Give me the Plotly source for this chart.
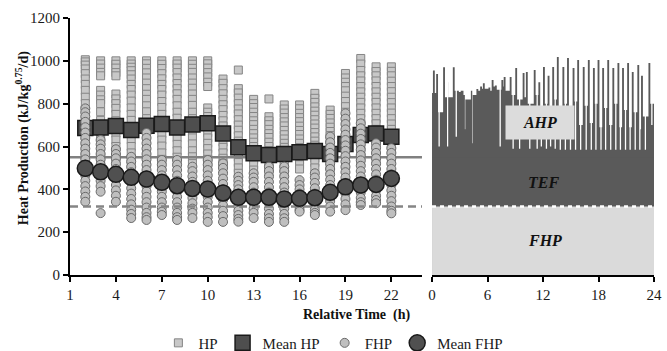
import plotly.graph_objects as go

# ---------------- data ----------------
hours = list(range(2, 23))

hp_points = [
    [1005, 995, 980, 962, 940, 915, 890, 862, 830, 800, 772, 740, 712, 680, 650, 622, 590, 560, 530, 500],
    [1000, 985, 966, 946, 930, 862, 840, 818, 800, 762, 722, 690, 660, 632, 600, 572, 540, 512],
    [1000, 984, 966, 945, 930, 845, 822, 800, 778, 750, 720, 690, 662, 630, 600, 575, 550, 520],
    [1000, 985, 970, 954, 935, 915, 890, 866, 840, 812, 780, 750, 722, 690, 660, 632, 600, 570, 540, 510],
    [1000, 986, 965, 944, 920, 896, 870, 844, 820, 790, 762, 730, 700, 672, 640, 610, 582, 550, 520],
    [1000, 984, 964, 940, 916, 890, 866, 840, 810, 782, 750, 720, 692, 660, 630, 602, 570, 540, 510],
    [1000, 985, 966, 945, 920, 894, 870, 846, 820, 790, 760, 732, 700, 670, 642, 610, 580, 550, 520],
    [1000, 984, 965, 946, 920, 896, 872, 845, 820, 792, 760, 730, 702, 670, 640, 612, 580, 552, 520],
    [1000, 986, 966, 945, 925, 900, 880, 780, 760, 740, 715, 690, 665, 640, 615, 590, 565, 540, 510],
    [915, 895, 870, 846, 820, 795, 772, 745, 720, 696, 670, 645, 620, 596, 570, 545, 520, 495],
    [957, 870, 850, 826, 800, 775, 752, 725, 700, 676, 650, 625, 600, 576, 550, 525, 500, 475],
    [820, 800, 782, 760, 740, 720, 702, 680, 660, 640, 620, 600, 582, 560, 540, 515, 490],
    [822, 739, 720, 702, 680, 660, 642, 620, 600, 580, 560, 540, 520, 500, 480],
    [794, 775, 756, 735, 715, 696, 675, 655, 635, 615, 596, 575, 555, 535, 515, 495, 475],
    [794, 776, 755, 735, 716, 695, 675, 656, 635, 615, 595, 576, 555, 535, 515, 495],
    [848, 825, 806, 785, 765, 746, 725, 705, 686, 665, 645, 625, 606, 585, 565, 545, 525, 500],
    [770, 750, 731, 710, 690, 670, 651, 630, 610, 590, 571, 550, 530, 510, 490],
    [941, 920, 900, 880, 860, 835, 810, 786, 760, 735, 710, 686, 660, 635, 610, 586, 560, 535, 510],
    [1011, 985, 955, 930, 906, 880, 855, 830, 806, 780, 755, 730, 706, 680, 655, 630, 606, 580, 555, 530],
    [972, 950, 930, 906, 880, 855, 830, 806, 780, 755, 730, 706, 680, 655, 630, 606, 580, 555, 530],
    [972, 951, 930, 905, 880, 856, 830, 805, 780, 756, 730, 705, 680, 656, 630, 605, 580, 556, 530],
]

fhp_points = [
    [778, 760, 740, 715, 690, 665, 640, 615, 590, 565, 540, 515, 490, 465, 440, 415, 390, 365, 342],
    [630, 610, 590, 565, 540, 515, 490, 465, 440, 415, 389, 289],
    [587, 565, 545, 520, 495, 470, 445, 420, 395, 370, 342],
    [552, 530, 505, 480, 455, 430, 405, 380, 355, 330, 305, 285, 266],
    [663, 640, 615, 590, 565, 540, 515, 490, 465, 440, 415, 390, 365, 340, 315, 290, 270, 257],
    [537, 515, 490, 465, 440, 415, 390, 365, 340, 315, 295, 280],
    [537, 515, 490, 465, 440, 415, 390, 365, 340, 315, 290, 270, 257],
    [506, 485, 460, 435, 410, 385, 360, 335, 310, 290, 266],
    [537, 515, 490, 465, 440, 415, 390, 365, 340, 315, 290, 270, 248],
    [521, 500, 475, 450, 425, 400, 375, 350, 325, 300, 275, 248],
    [459, 440, 420, 400, 380, 360, 340, 320, 300, 280, 262, 249],
    [475, 455, 435, 410, 385, 360, 335, 310, 290, 266],
    [506, 485, 460, 435, 410, 385, 360, 335, 310, 285, 265, 248],
    [506, 485, 460, 435, 410, 385, 360, 335, 310, 285, 265, 248],
    [443, 420, 400, 380, 360, 340, 320, 305, 296],
    [475, 455, 430, 405, 380, 355, 330, 305, 290, 280],
    [646, 620, 595, 570, 545, 520, 495, 470, 445, 420, 395, 370, 345, 320, 296],
    [755, 730, 705, 680, 655, 630, 605, 580, 555, 530, 505, 480, 455, 430, 405, 380, 355, 330, 303],
    [708, 685, 660, 635, 610, 585, 560, 535, 510, 485, 460, 435, 410, 385, 360, 340, 327],
    [615, 595, 570, 545, 520, 495, 470, 445, 420, 395, 370, 350, 335],
    [592, 570, 545, 520, 495, 470, 445, 420, 395, 370, 345, 320, 300, 288],
]

mean_hp = [686, 689, 696, 677, 697, 705, 689, 703, 708, 661, 596, 568, 560, 565, 573, 579, 565, 612, 654, 661, 646]
mean_fhp = [498, 482, 470, 456, 448, 433, 417, 404, 401, 383, 363, 363, 363, 355, 358, 361, 386, 412, 420, 423, 451]

hp_level = 550     # overall mean HP (solid line / TEF top)
fhp_level = 320    # overall mean FHP (dashed line / FHP top)

# right panel: 24-h AHP profile (spikes, body level after each spike, white slits)
ahp_spike_time = [0.1, 0.45, 1.2, 1.75, 2.25, 2.9, 3.4, 4.2, 4.8, 5.2, 5.5, 6.1, 6.45, 6.8, 7.5, 7.75,
                  8.4, 9.0, 9.8, 10.15, 11.0, 11.5, 12.0, 12.5, 13.0, 13.5, 14.1, 14.6, 15.2, 15.7,
                  16.3, 16.85, 17.4, 17.9, 18.4, 18.95, 19.5, 20.05, 20.55, 21.1, 21.6, 22.2,
                  22.6, 23.4]
ahp_spike_value = [955, 938, 970, 900, 970, 855, 840, 860, 868, 880, 895, 875, 910, 885, 910, 925,
                   924, 966, 943, 948, 957, 900, 971, 930, 971, 1018, 971, 1013, 966, 1004,
                   971, 1004, 966, 1004, 966, 1004, 966, 990, 966, 990, 948, 980,
                   930, 990]
ahp_body_value = [850, 760, 830, 830, 860, 860, 820, 840, 860, 870, 870, 860, 880, 865, 880, 860,
                  840, 820, 830, 800, 840, 760, 800, 720, 820, 700, 800, 720, 810, 700,
                  790, 710, 800, 690, 780, 700, 800, 690, 770, 690, 760, 680,
                  740, 800]
ahp_slit_time = [0.7, 1.62, 2.55, 3.55, 4.35, 7.3, 8.7, 9.4, 10.5, 11.3, 11.75, 12.3, 12.75, 13.25,
                 13.8, 14.35, 14.9, 15.45, 16.0, 16.6, 17.15, 17.65, 18.2, 18.7, 19.25, 19.8,
                 20.3, 20.85, 21.35, 21.9, 22.4, 23.0, 23.7]
ahp_slit_value = [600, 600, 645, 680, 615, 600, 590, 590, 590, 590, 600, 590, 600, 590,
                  585, 585, 585, 585, 585, 585, 585, 585, 585, 585, 585, 585,
                  585, 585, 585, 585, 585, 585, 700]
ahp_start_value = 850
ahp_end_value = 756

# ---------------- styling ----------------
FONT = "Liberation Serif, Times New Roman, Times, serif"
DARK = "#5a5a5a"
LIGHT = "#dadada"
spike_w = 0.2
slit_w = 0.14

# build step outline of the AHP profile
events = [(0.0, ahp_start_value, None)]
for t, v, b in zip(ahp_spike_time, ahp_spike_value, ahp_body_value):
    events.append((t, v, "spike"))
    events.append((t + spike_w, b, "body"))
for t, v in zip(ahp_slit_time, ahp_slit_value):
    events.append((t, v, "slit"))
    events.append((t + slit_w, None, "resume"))
events.sort(key=lambda e: e[0])
ax, ay = [], []
cur_body = ahp_start_value
for t, v, kind in events:
    if kind == "body" or kind is None:
        cur_body = v
    if kind == "resume":
        v = cur_body
    ax.append(t)
    ay.append(v)
ax.append(24.0)
ay.append(ahp_end_value)

fig = go.Figure()

# ---- left panel ----
hp_x, hp_y, fhp_x, fhp_y = [], [], [], []
for h, vals in zip(hours, hp_points):
    hp_x += [h] * len(vals)
    hp_y += vals
for h, vals in zip(hours, fhp_points):
    fhp_x += [h] * len(vals)
    fhp_y += vals

fig.add_trace(go.Scatter(
    x=hp_x, y=hp_y, mode="markers", name="HP",
    marker=dict(symbol="square", size=8, color="#c8c8c8", line=dict(color="#858585", width=1)),
    xaxis="x", yaxis="y"))
fig.add_trace(go.Scatter(
    x=[1, 24], y=[hp_level, hp_level], mode="lines", showlegend=False, hoverinfo="skip",
    line=dict(color="#808080", width=2.5), xaxis="x", yaxis="y"))
fig.add_trace(go.Scatter(
    x=hours, y=mean_hp, mode="markers", name="Mean HP",
    marker=dict(symbol="square", size=15, color="#4e4e4e", line=dict(color="#1a1a1a", width=1.5)),
    xaxis="x", yaxis="y"))
fig.add_trace(go.Scatter(
    x=fhp_x, y=fhp_y, mode="markers", name="FHP",
    marker=dict(symbol="circle", size=9, color="#bfbfbf", line=dict(color="#6a6a6a", width=1)),
    xaxis="x", yaxis="y"))
fig.add_trace(go.Scatter(
    x=[1, 24], y=[fhp_level, fhp_level], mode="lines", showlegend=False, hoverinfo="skip",
    line=dict(color="#858585", width=2.5, dash="8px,5px"), xaxis="x", yaxis="y"))
fig.add_trace(go.Scatter(
    x=hours, y=mean_fhp, mode="markers", name="Mean FHP",
    marker=dict(symbol="circle", size=16, color="#505050", line=dict(color="#1a1a1a", width=1.5)),
    xaxis="x", yaxis="y"))

# ---- right panel ----
fig.add_trace(go.Scatter(
    x=ax, y=ay, mode="lines", line=dict(width=0, color=DARK, shape="hv"),
    fill="tozeroy", fillcolor=DARK, showlegend=False, hoverinfo="skip",
    xaxis="x2", yaxis="y2"))
fig.add_trace(go.Scatter(
    x=[0, 24], y=[hp_level, hp_level], mode="lines", line=dict(width=0, color=DARK),
    fill="tozeroy", fillcolor=DARK, showlegend=False, hoverinfo="skip",
    xaxis="x2", yaxis="y2"))
fig.add_trace(go.Scatter(
    x=[0, 24], y=[fhp_level, fhp_level], mode="lines", line=dict(width=0, color=LIGHT),
    fill="tozeroy", fillcolor=LIGHT, showlegend=False, hoverinfo="skip",
    xaxis="x2", yaxis="y2"))
fig.add_trace(go.Scatter(
    x=[0, 24], y=[fhp_level, fhp_level], mode="lines",
    line=dict(width=2.5, color="white", dash="4px,4px"), showlegend=False, hoverinfo="skip",
    xaxis="x2", yaxis="y2"))

label_font = dict(family=FONT, size=16, color="#111111")
annotations = [
    dict(x=11.7, y=712, xref="x2", yref="y2", text="<b><i>AHP</i></b>", showarrow=False,
         font=label_font, bgcolor="#dcdcdc", width=66, height=31),
    dict(x=12, y=430, xref="x2", yref="y2", text="<b><i>TEF</i></b>", showarrow=False, font=label_font),
    dict(x=12.2, y=163, xref="x2", yref="y2", text="<b><i>FHP</i></b>", showarrow=False, font=label_font),
    dict(x=0.4914, y=-0.156, xref="paper", yref="paper", text="<b>Relative Time  (h)</b>",
         showarrow=False, font=dict(family=FONT, size=14, color="#111111"),
         xanchor="center", yanchor="middle"),
    dict(x=-0.082, y=0.533, xref="paper", yref="paper",
         text="<b>Heat Production (kJ/kg<sup>0.75</sup>/d)</b>", textangle=-90,
         showarrow=False, font=dict(family=FONT, size=14, color="#111111"),
         xanchor="center", yanchor="middle"),
]

axis_common = dict(showline=True, linecolor="black", linewidth=2, ticks="outside",
                   ticklen=5, tickwidth=2, tickcolor="black", showgrid=False, zeroline=False,
                   automargin=False,
                   tickfont=dict(family=FONT, size=15, color="#1a1a1a"))

fig.update_layout(
    width=667, height=351,
    margin=dict(l=70, r=13, t=18, b=76, autoexpand=False),
    paper_bgcolor="white", plot_bgcolor="white",
    xaxis=dict(domain=[0, 0.6027], range=[1, 24], tickvals=[1, 4, 7, 10, 13, 16, 19, 22],
               anchor="y", **axis_common),
    yaxis=dict(domain=[0, 1], range=[0, 1200], tickvals=[0, 200, 400, 600, 800, 1000, 1200],
               anchor="x", **axis_common),
    xaxis2=dict(domain=[0.6199, 1], range=[0, 24], tickvals=[0, 6, 12, 18, 24],
                anchor="y2", **axis_common),
    yaxis2=dict(domain=[0, 1], range=[0, 1200], anchor="x2", visible=False),
    showlegend=True,
    legend=dict(orientation="h", x=0.451, xanchor="center", y=-0.265, yanchor="middle",
                font=dict(family=FONT, size=15, color="#1a1a1a"), itemwidth=30,
                bgcolor="rgba(0,0,0,0)"),
    annotations=annotations,
)

fig.write_html("out.html", config={"displayModeBar": False},
               post_script="document.body.style.margin='0';document.body.style.overflow='hidden';")
